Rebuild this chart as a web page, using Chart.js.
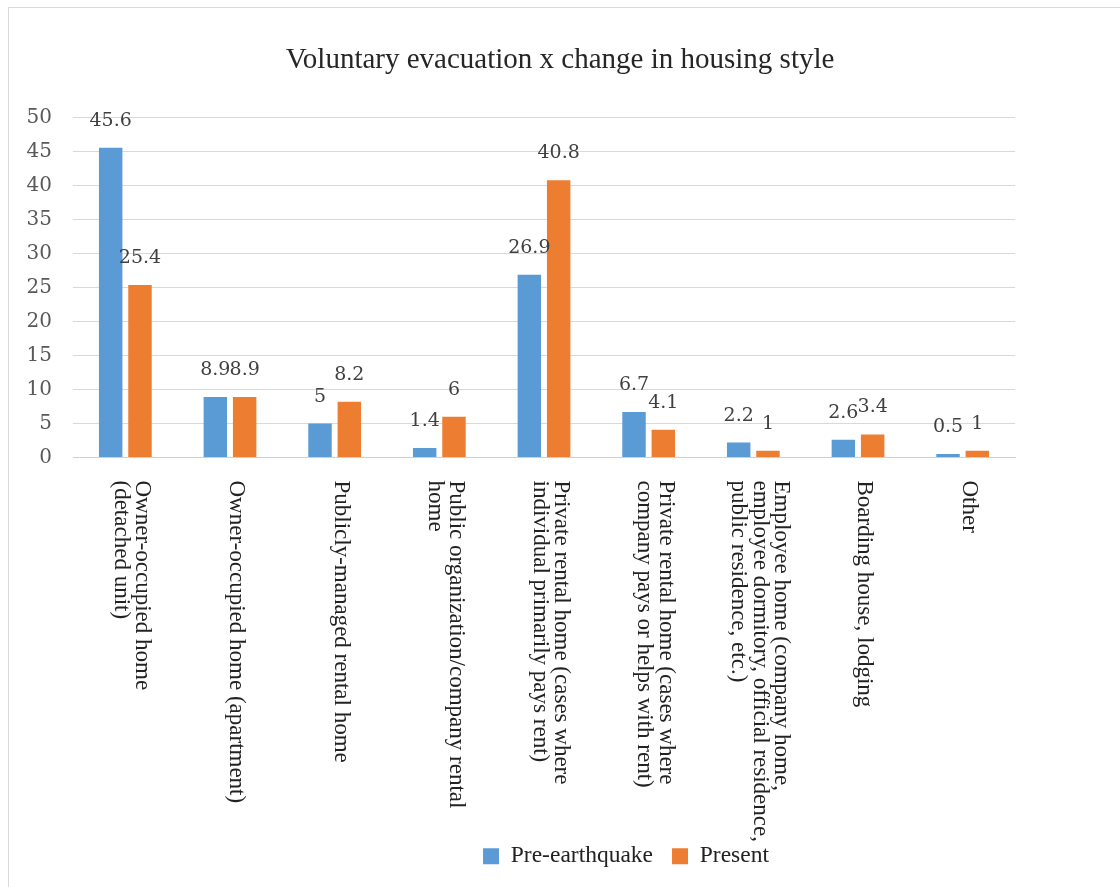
<!DOCTYPE html>
<html>
<head>
<meta charset="utf-8">
<script src="https://cdn.jsdelivr.net/npm/chart.js@4.4.1/dist/chart.umd.min.js"></script>
<style>
  body { margin: 0; background: #fff; }
  #frame {
    position: absolute; left: 8px; top: 7px; width: 1112px; height: 880px;
    border-left: 1px solid #d9d9d9; border-top: 1px solid #d9d9d9;
  }
  #chart { position: absolute; left: 0; top: 0; }
</style>
</head>
<body>
<div id="frame"></div>
<canvas id="chart" width="1120" height="887"></canvas>
<script>
// Data
const categories = [
    ['Owner-occupied home', '(detached unit)'],
    ['Owner-occupied home (apartment)'],
    ['Publicly-managed rental home'],
    ['Public organization/company rental', 'home'],
    ['Private rental home (cases where', 'individual primarily pays rent)'],
    ['Private rental home (cases where', 'company pays or helps with rent)'],
    ['Employee home (company home,', 'employee dormitory, official residence,', 'public residence, etc.)'],
    ['Boarding house, lodging'],
    ['Other']
];
const preEarthquake = [45.6, 8.9, 5, 1.4, 26.9, 6.7, 2.2, 2.6, 0.5];
const present = [25.4, 8.9, 8.2, 6, 40.8, 4.1, 1, 3.4, 1];
const seriesNames = ['Pre-earthquake', 'Present'];
const yTicks = [0, 5, 10, 15, 20, 25, 30, 35, 40, 45, 50];

const serif = 'Liberation Serif';
const numFont = 'DejaVu Serif';

// Value labels above every bar
const valueLabels = {
    id: 'valueLabels',
    afterDatasetsDraw(chart) {
        const ctx = chart.ctx;
        ctx.save();
        ctx.font = '19px "' + numFont + '"';
        ctx.fillStyle = '#404040';
        ctx.textAlign = 'center';
        ctx.textBaseline = 'alphabetic';
        chart.data.datasets.forEach((ds, di) => {
            chart.getDatasetMeta(di).data.forEach((bar, i) => {
                ctx.fillText(String(ds.data[i]), bar.x, bar.y - 22);
            });
        });
        ctx.restore();
    }
};

// Category labels rotated 90deg clockwise (reading top to bottom)
const verticalLabels = {
    id: 'verticalLabels',
    afterDraw(chart) {
        const ctx = chart.ctx;
        const xScale = chart.scales.x;
        const lineH = 21.5;
        const top = chart.chartArea.bottom + 23;
        ctx.save();
        ctx.font = '23px "' + serif + '"';
        ctx.fillStyle = '#222';
        ctx.textAlign = 'left';
        ctx.textBaseline = 'alphabetic';
        categories.forEach((lines, i) => {
            const c = xScale.getPixelForValue(i);
            const n = lines.length;
            lines.forEach((txt, j) => {
                const bx = c - n * lineH / 2 + 11 + (n - 1 - j) * lineH;
                ctx.save();
                ctx.translate(bx, top);
                ctx.rotate(Math.PI / 2);
                ctx.fillText(txt, 0, 0);
                ctx.restore();
            });
        });
        ctx.restore();
    }
};

// Legend sits right of centre in the reference
const legendShift = {
    id: 'legendShift',
    afterLayout(chart) {
        chart.legend.left += 66;
        chart.legend.right += 66;
    }
};

new Chart(document.getElementById('chart'), {
    type: 'bar',
    data: {
        labels: categories,
        datasets: [{
            label: seriesNames[0],
            data: preEarthquake,
            backgroundColor: '#5B9BD5',
            borderWidth: 0,
            categoryPercentage: 0.56,
            barPercentage: 0.8
        }, {
            label: seriesNames[1],
            data: present,
            backgroundColor: '#ED7D31',
            borderWidth: 0,
            categoryPercentage: 0.56,
            barPercentage: 0.8
        }]
    },
    options: {
        responsive: false,
        animation: false,
        devicePixelRatio: 1,
        layout: { padding: { left: 0, right: 0, top: 0, bottom: 9 } },
        plugins: {
            title: {
                display: true,
                text: 'Voluntary evacuation x change in housing style',
                color: '#262626',
                font: { family: serif, size: 29, weight: 'normal' },
                padding: { top: 43, bottom: 40 }
            },
            legend: {
                position: 'bottom',
                labels: {
                    color: '#222',
                    font: { family: serif, size: 23.5 },
                    boxWidth: 16,
                    boxHeight: 16,
                    padding: 19
                }
            },
            tooltip: { enabled: false }
        },
        scales: {
            x: {
                ticks: { display: false },
                grid: { display: false },
                border: { display: true, color: '#cfcfcf' },
                afterFit: (scale) => { scale.height = 368; }
            },
            y: {
                min: 0,
                max: 50,
                afterBuildTicks: (scale) => { scale.ticks = yTicks.map(v => ({ value: v })); },
                ticks: {
                    color: '#595959',
                    font: { family: numFont, size: 20 },
                    padding: 21
                },
                grid: { color: '#d9d9d9', drawTicks: false },
                border: { display: false },
                afterFit: (scale) => { scale.width = 73; }
            },
            yRight: {
                position: 'right',
                display: true,
                ticks: { display: false },
                grid: { display: false, drawTicks: false },
                border: { display: false },
                afterFit: (scale) => { scale.width = 105; }
            }
        }
    },
    plugins: [valueLabels, verticalLabels, legendShift]
});
</script>
</body>
</html>
